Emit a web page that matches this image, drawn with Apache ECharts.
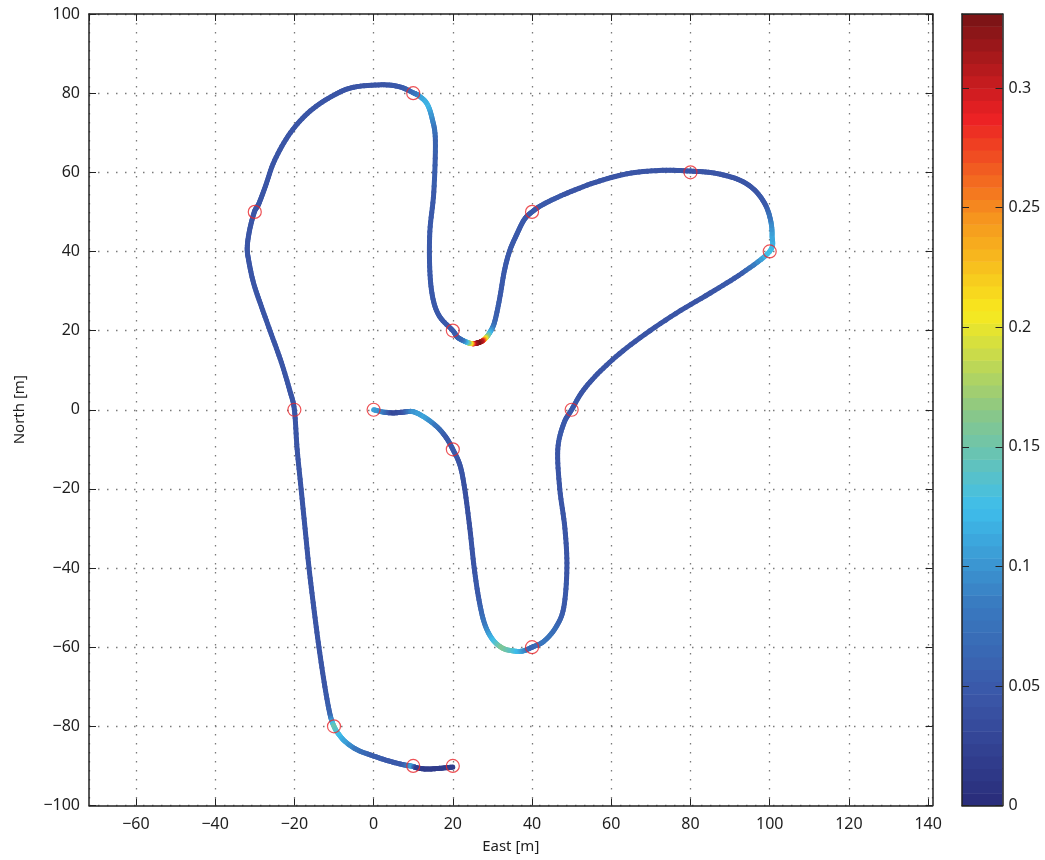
<!DOCTYPE html>
<html>
<head>
<meta charset="utf-8">
<title>Trajectory</title>
<script src="https://cdn.jsdelivr.net/npm/echarts@6/dist/echarts.min.js"></script>
<style>
  html, body { margin: 0; padding: 0; background: #fff; }
  #chart { width: 1045px; height: 860px; }
</style>
</head>
<body>
<div id="chart"></div>
<script>
// Vehicle path: East [m], North [m] and the colour-coded quantity along it
const pathX = [
  0, 2.5, 5, 7.5, 10, 13, 16, 18.3, 20, 21.8,
  23, 24.3, 25.4, 26.6, 28, 30, 32.5, 35, 37.5, 40, 43, 46, 48,
  48.8, 48.3, 47, 46.5, 48, 50,
  53, 58, 65, 75, 85, 93, 100,
  100.6, 100.2, 98.8, 96, 92, 86, 80, 73, 65, 57, 49, 43, 40,
  38, 36, 34.3, 33, 31.8, 30.5, 29.2, 28.2, 27.3, 26.3, 25.3, 24.3, 23.2, 22, 21, 20,
  16.7, 15, 14.2, 14.2, 15.2, 15.6, 14.8, 13.5, 11.5, 10, 6.6, 2,
  -5, -10, -16, -21, -25, -27.3, -29, -30.1, -31.3, -31.9, -31.5,
  -30.3, -28.3, -25.8, -23.3, -21.2, -20,
  -19.3, -18.3, -17.3, -16.3, -15.1, -13.8, -12.3, -11, -10, -8.8, -7, -4, 0, 4, 7.5, 9.8,
  11, 13.5, 16.7, 20
];
const pathY = [
  0, -0.6, -0.8, -0.6, -0.5, -2, -4.3, -7, -10, -14,
  -20, -30, -40, -48, -54, -58, -60.2, -60.9, -61, -60, -58.5, -55, -50,
  -40, -30, -20, -10, -3.5, 0,
  5, 10.5, 16.5, 23.5, 29.5, 34.5, 40,
  44, 48, 52, 55.7, 58.2, 59.8, 60.3, 60.5, 59.8, 57.8, 54.8, 52, 50,
  48, 44, 40, 35, 28, 22, 19.3, 18, 17.3, 16.9, 16.7, 16.8, 17.2, 17.8, 18.5, 20,
  23.5, 28, 35, 45, 55, 68, 73.5, 77.3, 79.3, 80.1, 81.6, 82.1,
  81.5, 79.5, 75.5, 70, 63, 56.5, 52, 50, 45.4, 41, 37.5,
  32, 26, 19, 12, 5, 0,
  -10, -20, -30, -40, -50, -60, -70, -77, -80, -82, -84, -86, -87.5, -88.8, -89.7, -90.1,
  -90.5, -90.8, -90.6, -90.3
];
const pathC = [
  0.11, 0.09, 0.03, 0.04, 0.10, 0.11, 0.08, 0.05, 0.05, 0.045,
  0.04, 0.04, 0.045, 0.05, 0.08, 0.12, 0.16, 0.14, 0.11, 0.06, 0.08, 0.07, 0.05,
  0.045, 0.045, 0.045, 0.045, 0.05, 0.05,
  0.045, 0.045, 0.045, 0.045, 0.045, 0.05, 0.13,
  0.11, 0.09, 0.05, 0.045, 0.045, 0.045, 0.045, 0.045, 0.045, 0.045, 0.045, 0.05, 0.05,
  0.05, 0.05, 0.05, 0.05, 0.05, 0.06, 0.12, 0.20, 0.30, 0.33, 0.31, 0.20, 0.12, 0.07, 0.06, 0.05,
  0.05, 0.05, 0.05, 0.05, 0.05, 0.06, 0.09, 0.12, 0.11, 0.08, 0.05, 0.045,
  0.045, 0.045, 0.045, 0.045, 0.045, 0.045, 0.045, 0.045, 0.045, 0.045, 0.045,
  0.045, 0.045, 0.045, 0.045, 0.045, 0.045,
  0.045, 0.045, 0.045, 0.045, 0.045, 0.045, 0.045, 0.06, 0.15, 0.13, 0.11, 0.08, 0.055, 0.05, 0.05, 0.11,
  0.02, 0.02, 0.02, 0.02
];

// Waypoints
const waypointX = [0, 20, 40, 50, 100, 80, 40, 20, 10, -30, -20, -10, 10, 20];
const waypointY = [0, -10, -60, 0, 40, 60, 50, 20, 80, 50, 0, -80, -90, -90];

// Axis extents and tick step
const eastRange = [-71.85, 141.1];
const northRange = [-100, 100];
const tickStep = 20;

// Colour scale limits and tick step
const colorMin = 0;
const colorMax = 0.331;
const colorStep = 0.05;

// Jet-style colormap (64 levels) built from anchor colours
const anchors = [
  [0.000, [42, 46, 124]],
  [0.125, [58, 84, 166]],
  [0.250, [57, 122, 192]],
  [0.375, [62, 190, 235]],
  [0.500, [140, 200, 132]],
  [0.625, [248, 234, 30]],
  [0.750, [246, 146, 30]],
  [0.875, [236, 32, 36]],
  [1.000, [126, 20, 22]]
];
function anchorColor(t) {
  for (let i = 1; i < anchors.length; i++) {
    if (t <= anchors[i][0]) {
      const a = anchors[i - 1], b = anchors[i];
      const f = (t - a[0]) / (b[0] - a[0]);
      const c = a[1].map((v, k) => Math.round(v + (b[1][k] - v) * f));
      return 'rgb(' + c.join(',') + ')';
    }
  }
  return 'rgb(' + anchors[anchors.length - 1][1].join(',') + ')';
}
const nLevels = 64;
const cmap = [];
for (let k = 0; k < nLevels; k++) cmap.push(anchorColor(k / (nLevels - 1)));
function colorOf(v) {
  let k = Math.floor((v - colorMin) / (colorMax - colorMin) * nLevels);
  k = Math.max(0, Math.min(nLevels - 1, k));
  return cmap[k];
}

const pathData = pathX.map((x, i) => [x, pathY[i], pathC[i]]);
const waypointData = waypointX.map((x, i) => [x, waypointY[i]]);
const bandData = cmap.map((c, k) => [k]);

const fontFamily = '"Noto Sans", "Liberation Sans", sans-serif';
const textColor = '#1e1e1e';
const axisColor = '#222';
const minus = v => (v < 0 ? '\u2212' + (-v) : String(v));

// Smooth coloured path: each piece is a Catmull-Rom cubic between two points,
// stroked in short sub-pieces so the colour follows the value along it.
function renderPath(params, api) {
  const i = params.dataIndex;
  const n = pathX.length;
  if (i >= n - 1) return null;
  const P = k => {
    k = Math.max(0, Math.min(n - 1, k));
    return api.coord([pathX[k], pathY[k]]);
  };
  const p0 = P(i - 1), p1 = P(i), p2 = P(i + 1), p3 = P(i + 2);
  const c1 = [p1[0] + (p2[0] - p0[0]) / 6, p1[1] + (p2[1] - p0[1]) / 6];
  const c2 = [p2[0] - (p3[0] - p1[0]) / 6, p2[1] - (p3[1] - p1[1]) / 6];
  const bez = t => {
    const u = 1 - t;
    return [
      u * u * u * p1[0] + 3 * u * u * t * c1[0] + 3 * u * t * t * c2[0] + t * t * t * p2[0],
      u * u * u * p1[1] + 3 * u * u * t * c1[1] + 3 * u * t * t * c2[1] + t * t * t * p2[1]
    ];
  };
  const steps = 8;
  const children = [];
  let prev = bez(0);
  for (let s = 1; s <= steps; s++) {
    const cur = bez(s / steps);
    const f = (s - 0.5) / steps;
    const v = pathC[i] + (pathC[i + 1] - pathC[i]) * f;
    children.push({
      type: 'line',
      shape: { x1: prev[0], y1: prev[1], x2: cur[0], y2: cur[1] },
      style: { stroke: colorOf(v), lineWidth: 5, lineCap: 'round' }
    });
    prev = cur;
  }
  return { type: 'group', children: children };
}

// Colour bar cells
function renderBand(params, api) {
  const k = params.dataIndex;
  const lo = colorMin + (colorMax - colorMin) * k / nLevels;
  const hi = colorMin + (colorMax - colorMin) * (k + 1) / nLevels;
  const a = api.coord([0, hi]);
  const b = api.coord([1, lo]);
  return {
    type: 'rect',
    shape: { x: a[0], y: a[1], width: b[0] - a[0], height: b[1] - a[1] + 0.5 },
    style: { fill: cmap[k] }
  };
}

const dotted = { type: [1.5, 7.5], color: '#7a7a7a', width: 1.3 };
const tickStyle = { show: true, inside: true, length: 7, lineStyle: { color: axisColor, width: 1 } };
const lineStyle = { show: true, onZero: false, lineStyle: { color: axisColor, width: 1.5 } };
const labelStyle = { color: textColor, fontFamily: fontFamily, fontSize: 16 };
const nameStyle = { color: textColor, fontFamily: fontFamily, fontSize: 15 };

const eastAxis = {
  gridIndex: 0, type: 'value',
  min: eastRange[0], max: eastRange[1], minInterval: tickStep, maxInterval: tickStep,
  axisLine: lineStyle, axisTick: tickStyle
};
const northAxis = {
  gridIndex: 0, type: 'value',
  min: northRange[0], max: northRange[1], interval: tickStep,
  axisLine: lineStyle, axisTick: tickStyle
};
const barFrame = {
  gridIndex: 1, type: 'value', min: 0, max: 1, z: 10,
  axisLine: lineStyle, axisTick: { show: false }, axisLabel: { show: false }, splitLine: { show: false }
};
const barScale = {
  gridIndex: 1, type: 'value', min: colorMin, max: colorMax, interval: colorStep, z: 10,
  axisLine: lineStyle, axisTick: tickStyle, splitLine: { show: false }
};

const chart = echarts.init(document.getElementById('chart'), null, { renderer: 'canvas' });
chart.setOption({
  animation: false,
  backgroundColor: '#fff',
  grid: [
    { left: 89, top: 14, width: 843.5, height: 791.5 },
    { left: 962, top: 14, width: 40.5, height: 791.5 }
  ],
  xAxis: [
    Object.assign({}, eastAxis, {
      position: 'bottom',
      axisLabel: Object.assign({ margin: 11, formatter: minus, showMinLabel: false, showMaxLabel: false }, labelStyle),
      splitLine: { show: true, lineStyle: dotted },
      name: 'East [m]', nameLocation: 'middle', nameGap: 34, nameTextStyle: nameStyle
    }),
    Object.assign({}, eastAxis, {
      position: 'top', axisLabel: { show: false }, splitLine: { show: false }
    }),
    Object.assign({}, barFrame, { position: 'bottom' }),
    Object.assign({}, barFrame, { position: 'top' })
  ],
  yAxis: [
    Object.assign({}, northAxis, {
      position: 'left',
      axisLabel: Object.assign({ margin: 9, formatter: minus }, labelStyle),
      splitLine: { show: true, lineStyle: dotted },
      name: 'North [m]', nameLocation: 'middle', nameGap: 62, nameRotate: 90, nameTextStyle: nameStyle
    }),
    Object.assign({}, northAxis, {
      position: 'right', axisLabel: { show: false }, splitLine: { show: false }
    }),
    Object.assign({}, barScale, { position: 'left', axisLabel: { show: false } }),
    Object.assign({}, barScale, {
      position: 'right',
      axisLabel: Object.assign({ margin: 6, showMaxLabel: false }, labelStyle)
    })
  ],
  series: [
    {
      type: 'custom', name: 'path', xAxisIndex: 0, yAxisIndex: 0,
      data: pathData, renderItem: renderPath, clip: true, silent: true, z: 3
    },
    {
      type: 'scatter', name: 'waypoints', xAxisIndex: 0, yAxisIndex: 0,
      data: waypointData, symbol: 'circle', symbolSize: 13, silent: true, z: 5,
      itemStyle: { color: 'rgba(0,0,0,0)', borderColor: '#e8262a', borderWidth: 1.2 }
    },
    {
      type: 'custom', name: 'colorbar', xAxisIndex: 2, yAxisIndex: 2,
      data: bandData, renderItem: renderBand, silent: true, z: 1
    }
  ]
});
</script>
</body>
</html>
